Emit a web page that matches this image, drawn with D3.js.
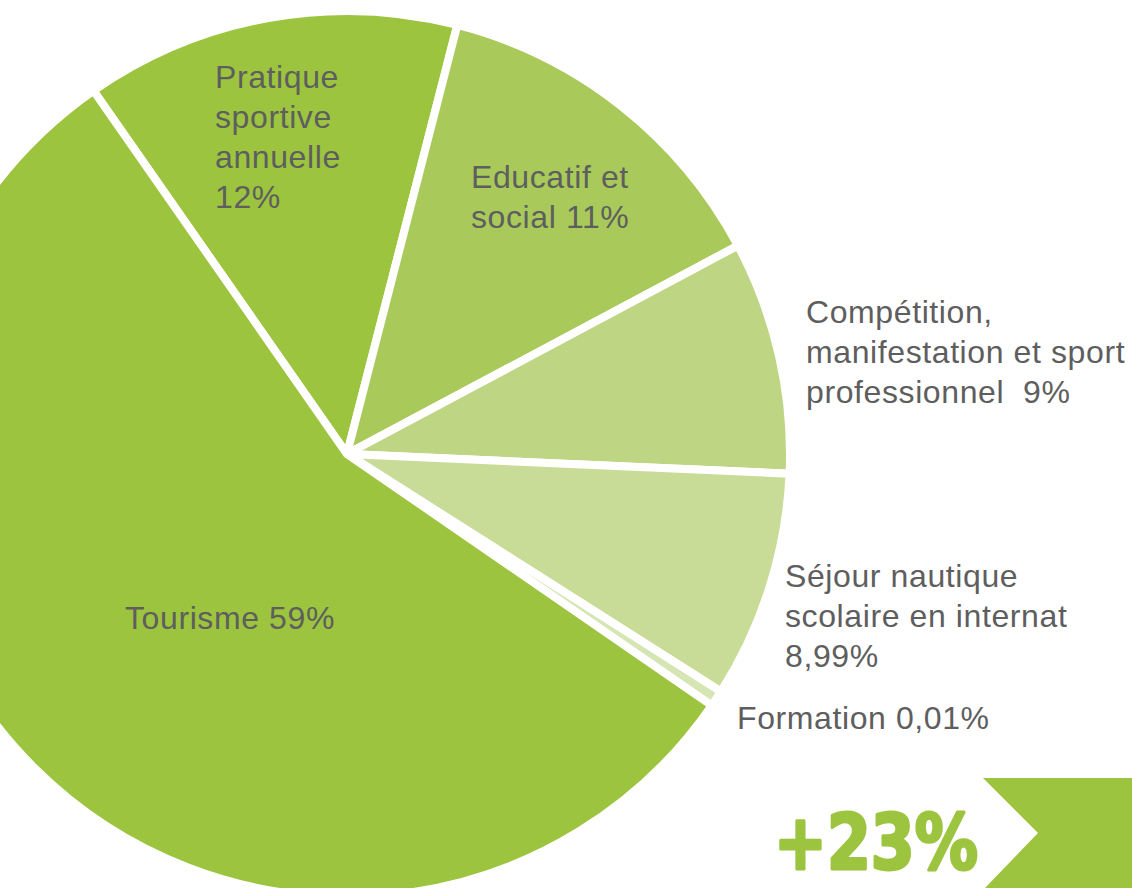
<!DOCTYPE html>
<html>
<head>
<meta charset="utf-8">
<script src="https://cdn.jsdelivr.net/npm/d3@7"></script>
<style>
  html, body { margin: 0; padding: 0; background: #fff; }
  svg { display: block; }
</style>
</head>
<body>
<div id="viz"></div>
<script>
// categories, in drawing order (clockwise from the Pratique slice)
const categories = ["Pratique sportive annuelle", "Educatif et social",
  "Compétition, manifestation et sport professionnel",
  "Séjour nautique scolaire en internat", "Formation", "Tourisme"];
// share of the circle as drawn in the picture (%)
const shares = [13.7, 13.2, 8.5, 8.3, 0.6, 55.7];
// label lines as printed
const labelLines = [
  ["Pratique", "sportive", "annuelle", "12%"],
  ["Educatif et", "social 11%"],
  ["Compétition,", "manifestation et sport", "professionnel  9%"],
  ["Séjour nautique", "scolaire en internat", "8,99%"],
  ["Formation 0,01%"],
  ["Tourisme 59%"]
];
const sliceColors = ["#9cc43f", "#a9ca5a", "#bed583", "#c9dc97", "#d6e5b4", "#9cc43f"];
const badgeText = "+23%";

const width = 1132, height = 888;
const cx = 347, cy = 454, radius = 443;
// label anchor (left x, first baseline y) per slice
const labelPos = [[215, 88], [471, 188], [806, 323], [785, 587], [737, 729], [125, 629]];
const lineHeight = 40;

const svg = d3.select("#viz").append("svg")
  .attr("width", width)
  .attr("height", height);

const data = categories.map((c, i) => ({ name: c, value: shares[i], i: i }));

const pie = d3.pie()
  .value(d => d.value)
  .sort(null)
  .startAngle(-34.9 * Math.PI / 180)
  .endAngle((360 - 34.9) * Math.PI / 180);

const arc = d3.arc().innerRadius(0).outerRadius(radius);

const g = svg.append("g").attr("transform", `translate(${cx},${cy})`);

g.selectAll("path")
  .data(pie(data))
  .enter().append("path")
  .attr("d", arc)
  .attr("fill", d => sliceColors[d.data.i])
  .attr("stroke", "#fff")
  .attr("stroke-width", 8)
  .attr("stroke-linejoin", "miter");

// labels
const labels = svg.append("g")
  .attr("font-family", "'Helvetica Neue', 'Liberation Sans', Arial, sans-serif")
  .attr("font-size", 32)
  .attr("letter-spacing", 0.6)
  .attr("fill", "#5e5e5e");

labelLines.forEach((lines, i) => {
  const t = labels.append("text")
    .attr("x", labelPos[i][0])
    .attr("y", labelPos[i][1])
    .attr("xml:space", "preserve");
  lines.forEach((line, k) => {
    t.append("tspan")
      .attr("x", labelPos[i][0])
      .attr("y", labelPos[i][1] + k * lineHeight)
      .text(line);
  });
});

// +23% badge with chevron
svg.append("path")
  .attr("d", "M983,778 L1132,778 L1132,888 L985,888 L1038,833 Z")
  .attr("fill", "#9cc43f");

svg.append("text")
  .attr("x", 774)
  .attr("y", 869)
  .attr("font-family", "'Liberation Sans Narrow', 'DejaVu Sans Condensed', Arial, sans-serif")
  .attr("font-weight", "bold")
  .attr("font-size", 76)
  .attr("textLength", 204)
  .attr("lengthAdjust", "spacingAndGlyphs")
  .attr("fill", "#9cc43f")
  .attr("stroke", "#9cc43f")
  .attr("stroke-width", 3)
  .attr("stroke-linejoin", "round")
  .text(badgeText);
</script>
</body>
</html>
